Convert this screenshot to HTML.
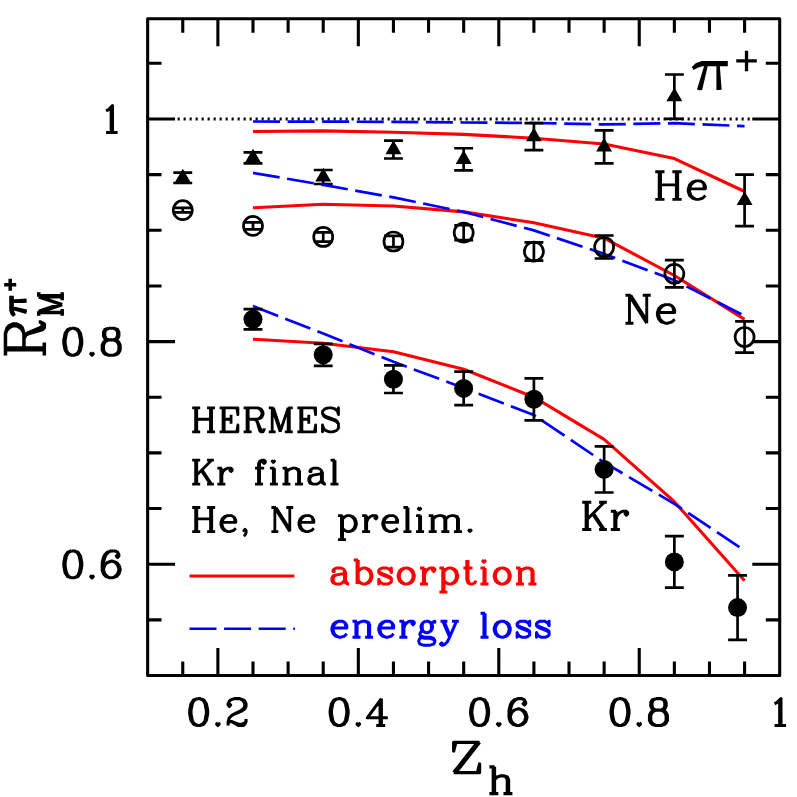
<!DOCTYPE html>
<html><head><meta charset="utf-8"><title>chart</title>
<style>html,body{margin:0;padding:0;background:#fff;font-family:"Liberation Sans",sans-serif}svg{display:block}</style></head>
<body>
<svg width="797" height="797" viewBox="0 0 797 797">
<rect width="797" height="797" fill="#fff"/>
<g fill="none" stroke="#000" stroke-width="3.10" stroke-linecap="butt" stroke-linejoin="round">
<path d="M177.60 118.97 H752.80" stroke-dasharray="2.1 3.9"/>
<rect x="147.65" y="18.80" width="632.05" height="656.70"/>
<path d="M182.76 18.80 v13.90 M182.76 675.50 v-13.90 M217.88 18.80 v27.40 M217.88 675.50 v-27.40 M252.99 18.80 v13.90 M252.99 675.50 v-13.90 M288.11 18.80 v13.90 M288.11 675.50 v-13.90 M323.22 18.80 v13.90 M323.22 675.50 v-13.90 M358.33 18.80 v27.40 M358.33 675.50 v-27.40 M393.45 18.80 v13.90 M393.45 675.50 v-13.90 M428.56 18.80 v13.90 M428.56 675.50 v-13.90 M463.68 18.80 v13.90 M463.68 675.50 v-13.90 M498.79 18.80 v27.40 M498.79 675.50 v-27.40 M533.90 18.80 v13.90 M533.90 675.50 v-13.90 M569.02 18.80 v13.90 M569.02 675.50 v-13.90 M604.13 18.80 v13.90 M604.13 675.50 v-13.90 M639.24 18.80 v27.40 M639.24 675.50 v-27.40 M674.36 18.80 v13.90 M674.36 675.50 v-13.90 M709.47 18.80 v13.90 M709.47 675.50 v-13.90 M744.59 18.80 v13.90 M744.59 675.50 v-13.90 M147.65 619.86 h13.90 M779.70 619.86 h-13.90 M147.65 564.21 h27.40 M779.70 564.21 h-27.40 M147.65 508.55 h13.90 M779.70 508.55 h-13.90 M147.65 452.90 h13.90 M779.70 452.90 h-13.90 M147.65 397.25 h13.90 M779.70 397.25 h-13.90 M147.65 341.59 h27.40 M779.70 341.59 h-27.40 M147.65 285.93 h13.90 M779.70 285.93 h-13.90 M147.65 230.28 h13.90 M779.70 230.28 h-13.90 M147.65 174.63 h13.90 M779.70 174.63 h-13.90 M147.65 118.97 h27.40 M779.70 118.97 h-27.40 M147.65 63.31 h13.90 M779.70 63.31 h-13.90"/>
</g>
<path fill="none" stroke="#ff0000" stroke-width="3.10" stroke-linejoin="round" d="M252.99 131.50 L323.22 130.90 L393.45 132.30 L463.68 134.40 L533.90 138.20 L604.13 144.00 L674.36 158.60 L744.59 191.50"/>
<path fill="none" stroke="#0000ff" stroke-width="2.7" stroke-linejoin="round" stroke-dasharray="27 7.58" d="M252.99 121.50 L323.22 121.60 L393.45 121.90 L463.68 122.50 L533.90 123.00 L604.13 124.40 L674.36 123.20 L744.59 126.10"/>
<path fill="none" stroke="#000" stroke-width="2.70" d="M182.76 172.70 V183.00 M173.31 172.70 h18.90 M173.31 183.00 h18.90 M252.99 152.45 V163.45 M243.54 152.45 h18.90 M243.54 163.45 h18.90 M323.22 170.00 V184.00 M313.77 170.00 h18.90 M313.77 184.00 h18.90 M393.45 140.60 V158.50 M384.00 140.60 h18.90 M384.00 158.50 h18.90 M463.68 148.25 V170.35 M454.23 148.25 h18.90 M454.23 170.35 h18.90 M533.90 123.20 V150.20 M524.45 123.20 h18.90 M524.45 150.20 h18.90 M604.13 130.40 V163.40 M594.68 130.40 h18.90 M594.68 163.40 h18.90 M674.36 74.50 V118.90 M664.91 74.50 h18.90 M664.91 118.90 h18.90 M744.59 174.70 V226.10 M735.14 174.70 h18.90 M735.14 226.10 h18.90"/>
<path fill="#000" d="M182.76 168.65 L190.73 182.45 L174.80 182.45 Z M252.99 148.75 L260.96 162.55 L245.02 162.55 Z M323.22 167.80 L331.19 181.60 L315.25 181.60 Z M393.45 140.35 L401.41 154.15 L385.48 154.15 Z M463.68 150.10 L471.64 163.90 L455.71 163.90 Z M533.90 127.50 L541.87 141.30 L525.94 141.30 Z M604.13 137.70 L612.10 151.50 L596.16 151.50 Z M674.36 87.50 L682.33 101.30 L666.39 101.30 Z M744.59 191.20 L752.55 205.00 L736.62 205.00 Z"/>
<path fill="none" stroke="#ff0000" stroke-width="3.10" stroke-linejoin="round" d="M252.99 207.80 L323.22 204.20 L393.45 206.00 L463.68 211.90 L533.90 222.70 L604.13 238.20 L674.36 275.50 L744.59 319.40"/>
<path fill="none" stroke="#0000ff" stroke-width="2.7" stroke-linejoin="round" stroke-dasharray="27 7.58" d="M252.99 172.90 L323.22 184.90 L393.45 197.40 L463.68 211.90 L533.90 230.40 L604.13 253.90 L674.36 280.20 L744.59 315.80"/>
<path fill="none" stroke="#000" stroke-width="2.70" d="M182.76 207.90 V212.40 M173.31 207.90 h18.90 M173.31 212.40 h18.90 M252.99 222.40 V229.40 M243.54 222.40 h18.90 M243.54 229.40 h18.90 M323.22 232.32 V241.62 M313.77 232.32 h18.90 M313.77 241.62 h18.90 M393.45 235.85 V247.15 M384.00 235.85 h18.90 M384.00 247.15 h18.90 M463.68 225.25 V240.05 M454.23 225.25 h18.90 M454.23 240.05 h18.90 M533.90 242.45 V260.65 M524.45 242.45 h18.90 M524.45 260.65 h18.90 M604.13 235.50 V258.50 M594.68 235.50 h18.90 M594.68 258.50 h18.90 M674.36 260.20 V287.40 M664.91 260.20 h18.90 M664.91 287.40 h18.90 M744.59 321.40 V352.60 M735.14 321.40 h18.90 M735.14 352.60 h18.90"/>
<g fill="none" stroke="#000" stroke-width="2.70">
<circle cx="182.76" cy="210.15" r="9.5"/>
<circle cx="252.99" cy="225.90" r="9.5"/>
<circle cx="323.22" cy="236.97" r="9.5"/>
<circle cx="393.45" cy="241.50" r="9.5"/>
<circle cx="463.68" cy="232.65" r="9.5"/>
<circle cx="533.90" cy="251.55" r="9.5"/>
<circle cx="604.13" cy="247.00" r="9.5"/>
<circle cx="674.36" cy="273.80" r="9.5"/>
<circle cx="744.59" cy="337.00" r="9.5"/>
</g>
<path fill="none" stroke="#ff0000" stroke-width="3.10" stroke-linejoin="round" d="M252.99 339.20 L323.22 343.20 L393.45 351.70 L463.68 369.20 L533.90 397.20 L604.13 439.30 L674.36 501.70 L744.59 580.80"/>
<path fill="none" stroke="#0000ff" stroke-width="2.7" stroke-linejoin="round" stroke-dasharray="27 7.58" d="M252.99 306.10 L323.22 333.60 L393.45 361.80 L463.68 388.00 L533.90 415.00 L604.13 462.40 L674.36 503.80 L744.59 550.50"/>
<path fill="none" stroke="#000" stroke-width="2.70" d="M252.99 309.20 V329.40 M243.54 309.20 h18.90 M243.54 329.40 h18.90 M323.22 343.80 V365.80 M313.77 343.80 h18.90 M313.77 365.80 h18.90 M393.45 365.40 V393.00 M384.00 365.40 h18.90 M384.00 393.00 h18.90 M463.68 371.70 V405.10 M454.23 371.70 h18.90 M454.23 405.10 h18.90 M533.90 378.30 V420.30 M524.45 378.30 h18.90 M524.45 420.30 h18.90 M604.13 446.30 V492.50 M594.68 446.30 h18.90 M594.68 492.50 h18.90 M674.36 536.20 V587.60 M664.91 536.20 h18.90 M664.91 587.60 h18.90 M737.56 575.40 V639.80 M728.11 575.40 h18.90 M728.11 639.80 h18.90"/>
<g fill="#000">
<circle cx="252.99" cy="319.30" r="9.5"/>
<circle cx="323.22" cy="354.80" r="9.5"/>
<circle cx="393.45" cy="379.20" r="9.5"/>
<circle cx="463.68" cy="388.40" r="9.5"/>
<circle cx="533.90" cy="399.30" r="9.5"/>
<circle cx="604.13" cy="469.40" r="9.5"/>
<circle cx="674.36" cy="561.90" r="9.5"/>
<circle cx="737.56" cy="607.60" r="9.5"/>
</g>
<path fill="none" stroke="#ff0000" stroke-width="3.10" d="M189.5 576 H294.3"/>
<path fill="none" stroke="#0000ff" stroke-dasharray="27 7.58" stroke-width="2.6" d="M189.5 628.7 H294.9"/>
<path d="M197.40 698.62 L193.56 699.90 L191.00 703.74 L189.72 710.14 L189.72 713.98 L191.00 720.38 L193.56 724.22 L197.40 725.50 L199.96 725.50 L203.80 724.22 L206.36 720.38 L207.64 713.98 L207.64 710.14 L206.36 703.74 L203.80 699.90 L199.96 698.62 L197.40 698.62 M197.40 698.62 L194.84 699.90 L193.56 701.18 L192.28 703.74 L191.00 710.14 L191.00 713.98 L192.28 720.38 L193.56 722.94 L194.84 724.22 L197.40 725.50 M199.96 725.50 L202.52 724.22 L203.80 722.94 L205.08 720.38 L206.36 713.98 L206.36 710.14 L205.08 703.74 L203.80 701.18 L202.52 699.90 L199.96 698.62 M217.88 722.94 L216.60 724.22 L217.88 725.50 L219.16 724.22 L217.88 722.94 M229.40 703.74 L230.68 705.02 L229.40 706.30 L228.12 705.02 L228.12 703.74 L229.40 701.18 L230.68 699.90 L234.52 698.62 L239.64 698.62 L243.48 699.90 L244.76 701.18 L246.04 703.74 L246.04 706.30 L244.76 708.86 L240.92 711.42 L234.52 713.98 L231.96 715.26 L229.40 717.82 L228.12 721.66 L228.12 725.50 M239.64 698.62 L242.20 699.90 L243.48 701.18 L244.76 703.74 L244.76 706.30 L243.48 708.86 L239.64 711.42 L234.52 713.98 M228.12 722.94 L229.40 721.66 L231.96 721.66 L238.36 724.22 L242.20 724.22 L244.76 722.94 L246.04 721.66 M231.96 721.66 L238.36 725.50 L243.48 725.50 L244.76 724.22 L246.04 721.66 L246.04 719.10" fill="none" stroke="#000" stroke-width="3.10" stroke-linecap="butt" stroke-linejoin="round"/>
<path d="M337.85 698.62 L334.01 699.90 L331.45 703.74 L330.17 710.14 L330.17 713.98 L331.45 720.38 L334.01 724.22 L337.85 725.50 L340.41 725.50 L344.25 724.22 L346.81 720.38 L348.09 713.98 L348.09 710.14 L346.81 703.74 L344.25 699.90 L340.41 698.62 L337.85 698.62 M337.85 698.62 L335.29 699.90 L334.01 701.18 L332.73 703.74 L331.45 710.14 L331.45 713.98 L332.73 720.38 L334.01 722.94 L335.29 724.22 L337.85 725.50 M340.41 725.50 L342.97 724.22 L344.25 722.94 L345.53 720.38 L346.81 713.98 L346.81 710.14 L345.53 703.74 L344.25 701.18 L342.97 699.90 L340.41 698.62 M358.33 722.94 L357.05 724.22 L358.33 725.50 L359.61 724.22 L358.33 722.94 M380.09 701.18 L380.09 725.50 M381.37 698.62 L381.37 725.50 M381.37 698.62 L367.29 717.82 L387.77 717.82 M376.25 725.50 L385.21 725.50" fill="none" stroke="#000" stroke-width="3.10" stroke-linecap="butt" stroke-linejoin="round"/>
<path d="M478.31 698.62 L474.47 699.90 L471.91 703.74 L470.63 710.14 L470.63 713.98 L471.91 720.38 L474.47 724.22 L478.31 725.50 L480.87 725.50 L484.71 724.22 L487.27 720.38 L488.55 713.98 L488.55 710.14 L487.27 703.74 L484.71 699.90 L480.87 698.62 L478.31 698.62 M478.31 698.62 L475.75 699.90 L474.47 701.18 L473.19 703.74 L471.91 710.14 L471.91 713.98 L473.19 720.38 L474.47 722.94 L475.75 724.22 L478.31 725.50 M480.87 725.50 L483.43 724.22 L484.71 722.94 L485.99 720.38 L487.27 713.98 L487.27 710.14 L485.99 703.74 L484.71 701.18 L483.43 699.90 L480.87 698.62 M498.79 722.94 L497.51 724.22 L498.79 725.50 L500.07 724.22 L498.79 722.94 M524.39 702.46 L523.11 703.74 L524.39 705.02 L525.67 703.74 L525.67 702.46 L524.39 699.90 L521.83 698.62 L517.99 698.62 L514.15 699.90 L511.59 702.46 L510.31 705.02 L509.03 710.14 L509.03 717.82 L510.31 721.66 L512.87 724.22 L516.71 725.50 L519.27 725.50 L523.11 724.22 L525.67 721.66 L526.95 717.82 L526.95 716.54 L525.67 712.70 L523.11 710.14 L519.27 708.86 L517.99 708.86 L514.15 710.14 L511.59 712.70 L510.31 716.54 M517.99 698.62 L515.43 699.90 L512.87 702.46 L511.59 705.02 L510.31 710.14 L510.31 717.82 L511.59 721.66 L514.15 724.22 L516.71 725.50 M519.27 725.50 L521.83 724.22 L524.39 721.66 L525.67 717.82 L525.67 716.54 L524.39 712.70 L521.83 710.14 L519.27 708.86" fill="none" stroke="#000" stroke-width="3.10" stroke-linecap="butt" stroke-linejoin="round"/>
<path d="M618.76 698.62 L614.92 699.90 L612.36 703.74 L611.08 710.14 L611.08 713.98 L612.36 720.38 L614.92 724.22 L618.76 725.50 L621.32 725.50 L625.16 724.22 L627.72 720.38 L629.00 713.98 L629.00 710.14 L627.72 703.74 L625.16 699.90 L621.32 698.62 L618.76 698.62 M618.76 698.62 L616.20 699.90 L614.92 701.18 L613.64 703.74 L612.36 710.14 L612.36 713.98 L613.64 720.38 L614.92 722.94 L616.20 724.22 L618.76 725.50 M621.32 725.50 L623.88 724.22 L625.16 722.94 L626.44 720.38 L627.72 713.98 L627.72 710.14 L626.44 703.74 L625.16 701.18 L623.88 699.90 L621.32 698.62 M639.24 722.94 L637.96 724.22 L639.24 725.50 L640.52 724.22 L639.24 722.94 M655.88 698.62 L652.04 699.90 L650.76 702.46 L650.76 706.30 L652.04 708.86 L655.88 710.14 L661.00 710.14 L664.84 708.86 L666.12 706.30 L666.12 702.46 L664.84 699.90 L661.00 698.62 L655.88 698.62 M655.88 698.62 L653.32 699.90 L652.04 702.46 L652.04 706.30 L653.32 708.86 L655.88 710.14 M661.00 710.14 L663.56 708.86 L664.84 706.30 L664.84 702.46 L663.56 699.90 L661.00 698.62 M655.88 710.14 L652.04 711.42 L650.76 712.70 L649.48 715.26 L649.48 720.38 L650.76 722.94 L652.04 724.22 L655.88 725.50 L661.00 725.50 L664.84 724.22 L666.12 722.94 L667.40 720.38 L667.40 715.26 L666.12 712.70 L664.84 711.42 L661.00 710.14 M655.88 710.14 L653.32 711.42 L652.04 712.70 L650.76 715.26 L650.76 720.38 L652.04 722.94 L653.32 724.22 L655.88 725.50 M661.00 725.50 L663.56 724.22 L664.84 722.94 L666.12 720.38 L666.12 715.26 L664.84 712.70 L663.56 711.42 L661.00 710.14" fill="none" stroke="#000" stroke-width="3.10" stroke-linecap="butt" stroke-linejoin="round"/>
<path d="M774.58 703.74 L777.14 702.46 L780.98 698.62 L780.98 725.50 M779.70 699.90 L779.70 725.50 M774.58 725.50 L786.10 725.50" fill="none" stroke="#000" stroke-width="3.10" stroke-linecap="butt" stroke-linejoin="round"/>
<path d="M106.08 110.81 L108.64 109.53 L112.48 105.69 L112.48 132.57 M111.20 106.97 L111.20 132.57 M106.08 132.57 L117.60 132.57" fill="none" stroke="#000" stroke-width="3.10" stroke-linecap="butt" stroke-linejoin="round"/>
<path d="M71.52 328.31 L67.68 329.59 L65.12 333.43 L63.84 339.83 L63.84 343.67 L65.12 350.07 L67.68 353.91 L71.52 355.19 L74.08 355.19 L77.92 353.91 L80.48 350.07 L81.76 343.67 L81.76 339.83 L80.48 333.43 L77.92 329.59 L74.08 328.31 L71.52 328.31 M71.52 328.31 L68.96 329.59 L67.68 330.87 L66.40 333.43 L65.12 339.83 L65.12 343.67 L66.40 350.07 L67.68 352.63 L68.96 353.91 L71.52 355.19 M74.08 355.19 L76.64 353.91 L77.92 352.63 L79.20 350.07 L80.48 343.67 L80.48 339.83 L79.20 333.43 L77.92 330.87 L76.64 329.59 L74.08 328.31 M92.00 352.63 L90.72 353.91 L92.00 355.19 L93.28 353.91 L92.00 352.63 M108.64 328.31 L104.80 329.59 L103.52 332.15 L103.52 335.99 L104.80 338.55 L108.64 339.83 L113.76 339.83 L117.60 338.55 L118.88 335.99 L118.88 332.15 L117.60 329.59 L113.76 328.31 L108.64 328.31 M108.64 328.31 L106.08 329.59 L104.80 332.15 L104.80 335.99 L106.08 338.55 L108.64 339.83 M113.76 339.83 L116.32 338.55 L117.60 335.99 L117.60 332.15 L116.32 329.59 L113.76 328.31 M108.64 339.83 L104.80 341.11 L103.52 342.39 L102.24 344.95 L102.24 350.07 L103.52 352.63 L104.80 353.91 L108.64 355.19 L113.76 355.19 L117.60 353.91 L118.88 352.63 L120.16 350.07 L120.16 344.95 L118.88 342.39 L117.60 341.11 L113.76 339.83 M108.64 339.83 L106.08 341.11 L104.80 342.39 L103.52 344.95 L103.52 350.07 L104.80 352.63 L106.08 353.91 L108.64 355.19 M113.76 355.19 L116.32 353.91 L117.60 352.63 L118.88 350.07 L118.88 344.95 L117.60 342.39 L116.32 341.11 L113.76 339.83" fill="none" stroke="#000" stroke-width="3.10" stroke-linecap="butt" stroke-linejoin="round"/>
<path d="M71.52 550.93 L67.68 552.21 L65.12 556.05 L63.84 562.45 L63.84 566.29 L65.12 572.69 L67.68 576.53 L71.52 577.81 L74.08 577.81 L77.92 576.53 L80.48 572.69 L81.76 566.29 L81.76 562.45 L80.48 556.05 L77.92 552.21 L74.08 550.93 L71.52 550.93 M71.52 550.93 L68.96 552.21 L67.68 553.49 L66.40 556.05 L65.12 562.45 L65.12 566.29 L66.40 572.69 L67.68 575.25 L68.96 576.53 L71.52 577.81 M74.08 577.81 L76.64 576.53 L77.92 575.25 L79.20 572.69 L80.48 566.29 L80.48 562.45 L79.20 556.05 L77.92 553.49 L76.64 552.21 L74.08 550.93 M92.00 575.25 L90.72 576.53 L92.00 577.81 L93.28 576.53 L92.00 575.25 M117.60 554.77 L116.32 556.05 L117.60 557.33 L118.88 556.05 L118.88 554.77 L117.60 552.21 L115.04 550.93 L111.20 550.93 L107.36 552.21 L104.80 554.77 L103.52 557.33 L102.24 562.45 L102.24 570.13 L103.52 573.97 L106.08 576.53 L109.92 577.81 L112.48 577.81 L116.32 576.53 L118.88 573.97 L120.16 570.13 L120.16 568.85 L118.88 565.01 L116.32 562.45 L112.48 561.17 L111.20 561.17 L107.36 562.45 L104.80 565.01 L103.52 568.85 M111.20 550.93 L108.64 552.21 L106.08 554.77 L104.80 557.33 L103.52 562.45 L103.52 570.13 L104.80 573.97 L107.36 576.53 L109.92 577.81 M112.48 577.81 L115.04 576.53 L117.60 573.97 L118.88 570.13 L118.88 568.85 L117.60 565.01 L115.04 562.45 L112.48 561.17" fill="none" stroke="#000" stroke-width="3.10" stroke-linecap="butt" stroke-linejoin="round"/>
<path d="M195.62 407.80 L195.62 431.80 M196.76 407.80 L196.76 431.80 M210.47 407.80 L210.47 431.80 M211.62 407.80 L211.62 431.80 M192.19 407.80 L200.19 407.80 M207.05 407.80 L215.05 407.80 M196.76 419.23 L210.47 419.23 M192.19 431.80 L200.19 431.80 M207.05 431.80 L215.05 431.80 M223.05 407.80 L223.05 431.80 M224.19 407.80 L224.19 431.80 M231.05 414.66 L231.05 423.80 M219.62 407.80 L237.91 407.80 L237.91 414.66 L236.76 407.80 M224.19 419.23 L231.05 419.23 M219.62 431.80 L237.91 431.80 L237.91 424.94 L236.76 431.80 M247.05 407.80 L247.05 431.80 M248.19 407.80 L248.19 431.80 M243.62 407.80 L257.34 407.80 L260.77 408.94 L261.91 410.08 L263.05 412.37 L263.05 414.66 L261.91 416.94 L260.77 418.08 L257.34 419.23 L248.19 419.23 M257.34 407.80 L259.62 408.94 L260.77 410.08 L261.91 412.37 L261.91 414.66 L260.77 416.94 L259.62 418.08 L257.34 419.23 M243.62 431.80 L251.62 431.80 M253.91 419.23 L256.19 420.37 L257.34 421.51 L260.77 429.51 L261.91 430.66 L263.05 430.66 L264.20 429.51 M256.19 420.37 L257.34 422.66 L259.62 430.66 L260.77 431.80 L263.05 431.80 L264.20 429.51 L264.20 428.37 M272.20 407.80 L272.20 431.80 M273.34 407.80 L280.20 428.37 M272.20 407.80 L280.20 431.80 M288.20 407.80 L280.20 431.80 M288.20 407.80 L288.20 431.80 M289.34 407.80 L289.34 431.80 M268.77 407.80 L273.34 407.80 M288.20 407.80 L292.77 407.80 M268.77 431.80 L275.62 431.80 M284.77 431.80 L292.77 431.80 M300.77 407.80 L300.77 431.80 M301.91 407.80 L301.91 431.80 M308.77 414.66 L308.77 423.80 M297.34 407.80 L315.63 407.80 L315.63 414.66 L314.49 407.80 M301.91 419.23 L308.77 419.23 M297.34 431.80 L315.63 431.80 L315.63 424.94 L314.49 431.80 M337.35 411.23 L338.49 407.80 L338.49 414.66 L337.35 411.23 L335.06 408.94 L331.63 407.80 L328.20 407.80 L324.77 408.94 L322.49 411.23 L322.49 413.51 L323.63 415.80 L324.77 416.94 L327.06 418.08 L333.92 420.37 L336.20 421.51 L338.49 423.80 M322.49 413.51 L324.77 415.80 L327.06 416.94 L333.92 419.23 L336.20 420.37 L337.35 421.51 L338.49 423.80 L338.49 428.37 L336.20 430.66 L332.77 431.80 L329.35 431.80 L325.92 430.66 L323.63 428.37 L322.49 424.94 L322.49 431.80 L323.63 428.37" fill="none" stroke="#000" stroke-width="2.80" stroke-linecap="butt" stroke-linejoin="round"/>
<path d="M195.62 460.20 L195.62 484.20 M196.76 460.20 L196.76 484.20 M211.62 460.20 L196.76 475.06 M202.47 470.48 L211.62 484.20 M201.33 470.48 L210.47 484.20 M192.19 460.20 L200.19 460.20 M207.05 460.20 L213.90 460.20 M192.19 484.20 L200.19 484.20 M207.05 484.20 L213.90 484.20 M220.76 468.20 L220.76 484.20 M221.90 468.20 L221.90 484.20 M221.90 475.06 L223.05 471.63 L225.33 469.34 L227.62 468.20 L231.05 468.20 L232.19 469.34 L232.19 470.48 L231.05 471.63 L229.91 470.48 L231.05 469.34 M217.33 468.20 L221.90 468.20 M217.33 484.20 L225.33 484.20 M264.19 461.34 L263.05 462.48 L264.19 463.63 L265.34 462.48 L265.34 461.34 L264.19 460.20 L261.91 460.20 L259.62 461.34 L258.48 463.63 L258.48 484.20 M261.91 460.20 L260.77 461.34 L259.62 463.63 L259.62 484.20 M255.05 468.20 L264.19 468.20 M255.05 484.20 L263.05 484.20 M273.34 460.20 L272.20 461.34 L273.34 462.48 L274.48 461.34 L273.34 460.20 M273.34 468.20 L273.34 484.20 M274.48 468.20 L274.48 484.20 M269.91 468.20 L274.48 468.20 M269.91 484.20 L277.91 484.20 M285.91 468.20 L285.91 484.20 M287.06 468.20 L287.06 484.20 M287.06 471.63 L289.34 469.34 L292.77 468.20 L295.06 468.20 L298.49 469.34 L299.63 471.63 L299.63 484.20 M295.06 468.20 L297.34 469.34 L298.49 471.63 L298.49 484.20 M282.48 468.20 L287.06 468.20 M282.48 484.20 L290.48 484.20 M295.06 484.20 L303.06 484.20 M311.06 470.48 L311.06 471.63 L309.92 471.63 L309.92 470.48 L311.06 469.34 L313.34 468.20 L317.92 468.20 L320.20 469.34 L321.35 470.48 L322.49 472.77 L322.49 480.77 L323.63 483.06 L324.77 484.20 M321.35 470.48 L321.35 480.77 L322.49 483.06 L324.77 484.20 L325.92 484.20 M321.35 472.77 L320.20 473.91 L313.34 475.06 L309.92 476.20 L308.77 478.49 L308.77 480.77 L309.92 483.06 L313.34 484.20 L316.77 484.20 L319.06 483.06 L321.35 480.77 M313.34 475.06 L311.06 476.20 L309.92 478.49 L309.92 480.77 L311.06 483.06 L313.34 484.20 M333.92 460.20 L333.92 484.20 M335.06 460.20 L335.06 484.20 M330.49 460.20 L335.06 460.20 M330.49 484.20 L338.49 484.20" fill="none" stroke="#000" stroke-width="2.80" stroke-linecap="butt" stroke-linejoin="round"/>
<path d="M195.64 507.49 L195.64 531.60 M196.79 507.49 L196.79 531.60 M210.56 507.49 L210.56 531.60 M211.71 507.49 L211.71 531.60 M192.20 507.49 L200.23 507.49 M207.12 507.49 L215.16 507.49 M196.79 518.97 L210.56 518.97 M192.20 531.60 L200.23 531.60 M207.12 531.60 L215.16 531.60 M222.04 522.42 L235.82 522.42 L235.82 520.12 L234.67 517.82 L233.52 516.68 L231.23 515.53 L227.78 515.53 L224.34 516.68 L222.04 518.97 L220.90 522.42 L220.90 524.71 L222.04 528.16 L224.34 530.45 L227.78 531.60 L230.08 531.60 L233.52 530.45 L235.82 528.16 M234.67 522.42 L234.67 518.97 L233.52 516.68 M227.78 515.53 L225.49 516.68 L223.19 518.97 L222.04 522.42 L222.04 524.71 L223.19 528.16 L225.49 530.45 L227.78 531.60 M245.00 531.60 L243.86 530.45 L245.00 529.30 L246.15 530.45 L246.15 532.75 L245.00 535.04 L243.86 536.19 M274.85 507.49 L274.85 531.60 M276.00 507.49 L289.78 529.30 M276.00 509.79 L289.78 531.60 M289.78 507.49 L289.78 531.60 M271.41 507.49 L276.00 507.49 M286.33 507.49 L293.22 507.49 M271.41 531.60 L278.30 531.60 M300.11 522.42 L313.88 522.42 L313.88 520.12 L312.74 517.82 L311.59 516.68 L309.29 515.53 L305.85 515.53 L302.40 516.68 L300.11 518.97 L298.96 522.42 L298.96 524.71 L300.11 528.16 L302.40 530.45 L305.85 531.60 L308.14 531.60 L311.59 530.45 L313.88 528.16 M312.74 522.42 L312.74 518.97 L311.59 516.68 M305.85 515.53 L303.55 516.68 L301.26 518.97 L300.11 522.42 L300.11 524.71 L301.26 528.16 L303.55 530.45 L305.85 531.60 M341.44 515.53 L341.44 539.64 M342.58 515.53 L342.58 539.64 M342.58 518.97 L344.88 516.68 L347.18 515.53 L349.47 515.53 L352.92 516.68 L355.21 518.97 L356.36 522.42 L356.36 524.71 L355.21 528.16 L352.92 530.45 L349.47 531.60 L347.18 531.60 L344.88 530.45 L342.58 528.16 M349.47 515.53 L351.77 516.68 L354.06 518.97 L355.21 522.42 L355.21 524.71 L354.06 528.16 L351.77 530.45 L349.47 531.60 M337.99 515.53 L342.58 515.53 M337.99 539.64 L346.03 539.64 M365.54 515.53 L365.54 531.60 M366.69 515.53 L366.69 531.60 M366.69 522.42 L367.84 518.97 L370.14 516.68 L372.43 515.53 L375.88 515.53 L377.02 516.68 L377.02 517.82 L375.88 518.97 L374.73 517.82 L375.88 516.68 M362.10 515.53 L366.69 515.53 M362.10 531.60 L370.14 531.60 M383.91 522.42 L397.69 522.42 L397.69 520.12 L396.54 517.82 L395.39 516.68 L393.10 515.53 L389.65 515.53 L386.21 516.68 L383.91 518.97 L382.76 522.42 L382.76 524.71 L383.91 528.16 L386.21 530.45 L389.65 531.60 L391.95 531.60 L395.39 530.45 L397.69 528.16 M396.54 522.42 L396.54 518.97 L395.39 516.68 M389.65 515.53 L387.36 516.68 L385.06 518.97 L383.91 522.42 L383.91 524.71 L385.06 528.16 L387.36 530.45 L389.65 531.60 M406.87 507.49 L406.87 531.60 M408.02 507.49 L408.02 531.60 M403.43 507.49 L408.02 507.49 M403.43 531.60 L411.46 531.60 M419.50 507.49 L418.35 508.64 L419.50 509.79 L420.65 508.64 L419.50 507.49 M419.50 515.53 L419.50 531.60 M420.65 515.53 L420.65 531.60 M416.06 515.53 L420.65 515.53 M416.06 531.60 L424.09 531.60 M432.13 515.53 L432.13 531.60 M433.28 515.53 L433.28 531.60 M433.28 518.97 L435.57 516.68 L439.02 515.53 L441.31 515.53 L444.76 516.68 L445.90 518.97 L445.90 531.60 M441.31 515.53 L443.61 516.68 L444.76 518.97 L444.76 531.60 M445.90 518.97 L448.20 516.68 L451.64 515.53 L453.94 515.53 L457.38 516.68 L458.53 518.97 L458.53 531.60 M453.94 515.53 L456.24 516.68 L457.38 518.97 L457.38 531.60 M428.68 515.53 L433.28 515.53 M428.68 531.60 L436.72 531.60 M441.31 531.60 L449.35 531.60 M453.94 531.60 L461.98 531.60 M470.01 529.30 L468.86 530.45 L470.01 531.60 L471.16 530.45 L470.01 529.30" fill="none" stroke="#000" stroke-width="2.80" stroke-linecap="butt" stroke-linejoin="round"/>
<path d="M334.21 570.28 L334.21 571.43 L333.07 571.43 L333.07 570.28 L334.21 569.14 L336.50 568.00 L341.07 568.00 L343.36 569.14 L344.50 570.28 L345.64 572.57 L345.64 580.57 L346.79 582.86 L347.93 584.00 M344.50 570.28 L344.50 580.57 L345.64 582.86 L347.93 584.00 L349.07 584.00 M344.50 572.57 L343.36 573.71 L336.50 574.86 L333.07 576.00 L331.93 578.28 L331.93 580.57 L333.07 582.86 L336.50 584.00 L339.93 584.00 L342.22 582.86 L344.50 580.57 M336.50 574.86 L334.21 576.00 L333.07 578.28 L333.07 580.57 L334.21 582.86 L336.50 584.00 M357.07 560.00 L357.07 584.00 M358.22 560.00 L358.22 584.00 M358.22 571.43 L360.50 569.14 L362.79 568.00 L365.08 568.00 L368.50 569.14 L370.79 571.43 L371.93 574.86 L371.93 577.14 L370.79 580.57 L368.50 582.86 L365.08 584.00 L362.79 584.00 L360.50 582.86 L358.22 580.57 M365.08 568.00 L367.36 569.14 L369.65 571.43 L370.79 574.86 L370.79 577.14 L369.65 580.57 L367.36 582.86 L365.08 584.00 M353.65 560.00 L358.22 560.00 M390.22 570.28 L391.37 568.00 L391.37 572.57 L390.22 570.28 L389.08 569.14 L386.79 568.00 L382.22 568.00 L379.94 569.14 L378.79 570.28 L378.79 572.57 L379.94 573.71 L382.22 574.86 L387.94 577.14 L390.22 578.28 L391.37 579.43 M378.79 571.43 L379.94 572.57 L382.22 573.71 L387.94 576.00 L390.22 577.14 L391.37 578.28 L391.37 581.71 L390.22 582.86 L387.94 584.00 L383.36 584.00 L381.08 582.86 L379.94 581.71 L378.79 579.43 L378.79 584.00 L379.94 581.71 M405.08 568.00 L401.65 569.14 L399.37 571.43 L398.22 574.86 L398.22 577.14 L399.37 580.57 L401.65 582.86 L405.08 584.00 L407.37 584.00 L410.80 582.86 L413.08 580.57 L414.23 577.14 L414.23 574.86 L413.08 571.43 L410.80 569.14 L407.37 568.00 L405.08 568.00 M405.08 568.00 L402.79 569.14 L400.51 571.43 L399.37 574.86 L399.37 577.14 L400.51 580.57 L402.79 582.86 L405.08 584.00 M407.37 584.00 L409.65 582.86 L411.94 580.57 L413.08 577.14 L413.08 574.86 L411.94 571.43 L409.65 569.14 L407.37 568.00 M423.37 568.00 L423.37 584.00 M424.51 568.00 L424.51 584.00 M424.51 574.86 L425.65 571.43 L427.94 569.14 L430.23 568.00 L433.66 568.00 L434.80 569.14 L434.80 570.28 L433.66 571.43 L432.51 570.28 L433.66 569.14 M419.94 568.00 L424.51 568.00 M419.94 584.00 L427.94 584.00 M442.80 568.00 L442.80 592.00 M443.94 568.00 L443.94 592.00 M443.94 571.43 L446.23 569.14 L448.51 568.00 L450.80 568.00 L454.23 569.14 L456.52 571.43 L457.66 574.86 L457.66 577.14 L456.52 580.57 L454.23 582.86 L450.80 584.00 L448.51 584.00 L446.23 582.86 L443.94 580.57 M450.80 568.00 L453.09 569.14 L455.37 571.43 L456.52 574.86 L456.52 577.14 L455.37 580.57 L453.09 582.86 L450.80 584.00 M439.37 568.00 L443.94 568.00 M439.37 592.00 L447.37 592.00 M466.80 560.00 L466.80 579.43 L467.95 582.86 L470.23 584.00 L472.52 584.00 L474.80 582.86 L475.95 580.57 M467.95 560.00 L467.95 579.43 L469.09 582.86 L470.23 584.00 M463.37 568.00 L472.52 568.00 M483.95 560.00 L482.81 561.14 L483.95 562.28 L485.09 561.14 L483.95 560.00 M483.95 568.00 L483.95 584.00 M485.09 568.00 L485.09 584.00 M480.52 568.00 L485.09 568.00 M480.52 584.00 L488.52 584.00 M501.09 568.00 L497.66 569.14 L495.38 571.43 L494.24 574.86 L494.24 577.14 L495.38 580.57 L497.66 582.86 L501.09 584.00 L503.38 584.00 L506.81 582.86 L509.09 580.57 L510.24 577.14 L510.24 574.86 L509.09 571.43 L506.81 569.14 L503.38 568.00 L501.09 568.00 M501.09 568.00 L498.81 569.14 L496.52 571.43 L495.38 574.86 L495.38 577.14 L496.52 580.57 L498.81 582.86 L501.09 584.00 M503.38 584.00 L505.67 582.86 L507.95 580.57 L509.09 577.14 L509.09 574.86 L507.95 571.43 L505.67 569.14 L503.38 568.00 M519.38 568.00 L519.38 584.00 M520.52 568.00 L520.52 584.00 M520.52 571.43 L522.81 569.14 L526.24 568.00 L528.52 568.00 L531.95 569.14 L533.10 571.43 L533.10 584.00 M528.52 568.00 L530.81 569.14 L531.95 571.43 L531.95 584.00 M515.95 568.00 L520.52 568.00 M515.95 584.00 L523.95 584.00 M528.52 584.00 L536.53 584.00" fill="none" stroke="#ff0000" stroke-width="3.00" stroke-linecap="butt" stroke-linejoin="round"/>
<path d="M333.07 628.06 L346.79 628.06 L346.79 625.77 L345.64 623.48 L344.50 622.34 L342.22 621.20 L338.79 621.20 L335.36 622.34 L333.07 624.63 L331.93 628.06 L331.93 630.34 L333.07 633.77 L335.36 636.06 L338.79 637.20 L341.07 637.20 L344.50 636.06 L346.79 633.77 M345.64 628.06 L345.64 624.63 L344.50 622.34 M338.79 621.20 L336.50 622.34 L334.21 624.63 L333.07 628.06 L333.07 630.34 L334.21 633.77 L336.50 636.06 L338.79 637.20 M355.93 621.20 L355.93 637.20 M357.07 621.20 L357.07 637.20 M357.07 624.63 L359.36 622.34 L362.79 621.20 L365.08 621.20 L368.50 622.34 L369.65 624.63 L369.65 637.20 M365.08 621.20 L367.36 622.34 L368.50 624.63 L368.50 637.20 M352.50 621.20 L357.07 621.20 M352.50 637.20 L360.50 637.20 M365.08 637.20 L373.08 637.20 M379.94 628.06 L393.65 628.06 L393.65 625.77 L392.51 623.48 L391.37 622.34 L389.08 621.20 L385.65 621.20 L382.22 622.34 L379.94 624.63 L378.79 628.06 L378.79 630.34 L379.94 633.77 L382.22 636.06 L385.65 637.20 L387.94 637.20 L391.37 636.06 L393.65 633.77 M392.51 628.06 L392.51 624.63 L391.37 622.34 M385.65 621.20 L383.36 622.34 L381.08 624.63 L379.94 628.06 L379.94 630.34 L381.08 633.77 L383.36 636.06 L385.65 637.20 M402.80 621.20 L402.80 637.20 M403.94 621.20 L403.94 637.20 M403.94 628.06 L405.08 624.63 L407.37 622.34 L409.65 621.20 L413.08 621.20 L414.23 622.34 L414.23 623.48 L413.08 624.63 L411.94 623.48 L413.08 622.34 M399.37 621.20 L403.94 621.20 M399.37 637.20 L407.37 637.20 M425.65 621.20 L423.37 622.34 L422.23 623.48 L421.08 625.77 L421.08 628.06 L422.23 630.34 L423.37 631.49 L425.65 632.63 L427.94 632.63 L430.23 631.49 L431.37 630.34 L432.51 628.06 L432.51 625.77 L431.37 623.48 L430.23 622.34 L427.94 621.20 L425.65 621.20 M423.37 622.34 L422.23 624.63 L422.23 629.20 L423.37 631.49 M430.23 631.49 L431.37 629.20 L431.37 624.63 L430.23 622.34 M431.37 623.48 L432.51 622.34 L434.80 621.20 L434.80 622.34 L432.51 622.34 M422.23 630.34 L421.08 631.49 L419.94 633.77 L419.94 634.91 L421.08 637.20 L424.51 638.34 L430.23 638.34 L433.66 639.49 L434.80 640.63 M419.94 634.91 L421.08 636.06 L424.51 637.20 L430.23 637.20 L433.66 638.34 L434.80 640.63 L434.80 641.77 L433.66 644.06 L430.23 645.20 L423.37 645.20 L419.94 644.06 L418.80 641.77 L418.80 640.63 L419.94 638.34 L423.37 637.20 M442.80 621.20 L449.66 637.20 M443.94 621.20 L449.66 634.91 M456.52 621.20 L449.66 637.20 L447.37 641.77 L445.09 644.06 L442.80 645.20 L441.66 645.20 L440.51 644.06 L441.66 642.92 L442.80 644.06 M440.51 621.20 L447.37 621.20 M451.94 621.20 L458.80 621.20 M483.95 613.20 L483.95 637.20 M485.09 613.20 L485.09 637.20 M480.52 613.20 L485.09 613.20 M480.52 637.20 L488.52 637.20 M501.09 621.20 L497.66 622.34 L495.38 624.63 L494.24 628.06 L494.24 630.34 L495.38 633.77 L497.66 636.06 L501.09 637.20 L503.38 637.20 L506.81 636.06 L509.09 633.77 L510.24 630.34 L510.24 628.06 L509.09 624.63 L506.81 622.34 L503.38 621.20 L501.09 621.20 M501.09 621.20 L498.81 622.34 L496.52 624.63 L495.38 628.06 L495.38 630.34 L496.52 633.77 L498.81 636.06 L501.09 637.20 M503.38 637.20 L505.67 636.06 L507.95 633.77 L509.09 630.34 L509.09 628.06 L507.95 624.63 L505.67 622.34 L503.38 621.20 M528.52 623.48 L529.67 621.20 L529.67 625.77 L528.52 623.48 L527.38 622.34 L525.10 621.20 L520.52 621.20 L518.24 622.34 L517.10 623.48 L517.10 625.77 L518.24 626.91 L520.52 628.06 L526.24 630.34 L528.52 631.49 L529.67 632.63 M517.10 624.63 L518.24 625.77 L520.52 626.91 L526.24 629.20 L528.52 630.34 L529.67 631.49 L529.67 634.91 L528.52 636.06 L526.24 637.20 L521.67 637.20 L519.38 636.06 L518.24 634.91 L517.10 632.63 L517.10 637.20 L518.24 634.91 M547.96 623.48 L549.10 621.20 L549.10 625.77 L547.96 623.48 L546.81 622.34 L544.53 621.20 L539.96 621.20 L537.67 622.34 L536.53 623.48 L536.53 625.77 L537.67 626.91 L539.96 628.06 L545.67 630.34 L547.96 631.49 L549.10 632.63 M536.53 624.63 L537.67 625.77 L539.96 626.91 L545.67 629.20 L547.96 630.34 L549.10 631.49 L549.10 634.91 L547.96 636.06 L545.67 637.20 L541.10 637.20 L538.81 636.06 L537.67 634.91 L536.53 632.63 L536.53 637.20 L537.67 634.91" fill="none" stroke="#0000ff" stroke-width="3.00" stroke-linecap="butt" stroke-linejoin="round"/>
<path d="M659.20 171.68 L659.20 199.40 M660.52 171.68 L660.52 199.40 M676.36 171.68 L676.36 199.40 M677.68 171.68 L677.68 199.40 M655.24 171.68 L664.48 171.68 M672.40 171.68 L681.64 171.68 M660.52 184.88 L676.36 184.88 M655.24 199.40 L664.48 199.40 M672.40 199.40 L681.64 199.40 M689.56 188.84 L705.40 188.84 L705.40 186.20 L704.08 183.56 L702.76 182.24 L700.12 180.92 L696.16 180.92 L692.20 182.24 L689.56 184.88 L688.24 188.84 L688.24 191.48 L689.56 195.44 L692.20 198.08 L696.16 199.40 L698.80 199.40 L702.76 198.08 L705.40 195.44 M704.08 188.84 L704.08 184.88 L702.76 182.24 M696.16 180.92 L693.52 182.24 L690.88 184.88 L689.56 188.84 L689.56 191.48 L690.88 195.44 L693.52 198.08 L696.16 199.40" fill="none" stroke="#000" stroke-width="2.90" stroke-linecap="butt" stroke-linejoin="round"/>
<path d="M629.45 295.27 L629.45 323.20 M630.78 295.27 L646.74 320.54 M630.78 297.93 L646.74 323.20 M646.74 295.27 L646.74 323.20 M625.46 295.27 L630.78 295.27 M642.75 295.27 L650.73 295.27 M625.46 323.20 L633.44 323.20 M658.71 312.56 L674.67 312.56 L674.67 309.90 L673.34 307.24 L672.01 305.91 L669.35 304.58 L665.36 304.58 L661.37 305.91 L658.71 308.57 L657.38 312.56 L657.38 315.22 L658.71 319.21 L661.37 321.87 L665.36 323.20 L668.02 323.20 L672.01 321.87 L674.67 319.21 M673.34 312.56 L673.34 308.57 L672.01 305.91 M665.36 304.58 L662.70 305.91 L660.04 308.57 L658.71 312.56 L658.71 315.22 L660.04 319.21 L662.70 321.87 L665.36 323.20" fill="none" stroke="#000" stroke-width="2.90" stroke-linecap="butt" stroke-linejoin="round"/>
<path d="M586.10 502.20 L586.10 529.50 M587.40 502.20 L587.40 529.50 M604.30 502.20 L587.40 519.10 M593.90 513.90 L604.30 529.50 M592.60 513.90 L603.00 529.50 M582.20 502.20 L591.30 502.20 M599.10 502.20 L606.90 502.20 M582.20 529.50 L591.30 529.50 M599.10 529.50 L606.90 529.50 M614.70 511.30 L614.70 529.50 M616.00 511.30 L616.00 529.50 M616.00 519.10 L617.30 515.20 L619.90 512.60 L622.50 511.30 L626.40 511.30 L627.70 512.60 L627.70 513.90 L626.40 515.20 L625.10 513.90 L626.40 512.60 M610.80 511.30 L616.00 511.30 M610.80 529.50 L619.90 529.50" fill="none" stroke="#000" stroke-width="2.90" stroke-linecap="butt" stroke-linejoin="round"/>
<path d="M706.35 64.55 L698.55 89.90 M706.35 64.55 L700.50 89.90 M718.05 64.55 L718.05 89.90 M718.05 64.55 L720.00 89.90 M692.70 68.45 L696.60 64.55 L702.45 62.60 L727.80 62.60 M692.70 68.45 L696.60 66.50 L702.45 64.55 L727.80 64.55 M746.53 50.65 L746.53 71.18 M736.26 60.91 L756.80 60.91" fill="none" stroke="#000" stroke-width="3.30" stroke-linecap="butt" stroke-linejoin="round"/>
<path d="M477.44 742.36 L453.68 772.60 M479.60 742.36 L455.84 772.60 M455.84 742.36 L453.68 751.00 L453.68 742.36 L479.60 742.36 M453.68 772.60 L479.60 772.60 L479.60 763.96 L477.44 772.60" fill="none" stroke="#000" stroke-width="3.20" stroke-linecap="butt" stroke-linejoin="round"/>
<path d="M493.24 766.86 L493.24 793.70 M494.52 766.86 L494.52 793.70 M494.52 779.64 L497.07 777.09 L500.91 775.81 L503.46 775.81 L507.30 777.09 L508.58 779.64 L508.58 793.70 M503.46 775.81 L506.02 777.09 L507.30 779.64 L507.30 793.70 M489.41 766.86 L494.52 766.86 M489.41 793.70 L498.35 793.70 M503.46 793.70 L512.41 793.70" fill="none" stroke="#000" stroke-width="3.20" stroke-linecap="butt" stroke-linejoin="round"/>
<path d="M5.45 349.85 L44.30 349.85 M5.45 348.00 L44.30 348.00 M5.45 355.40 L5.45 333.20 L7.30 327.65 L9.15 325.80 L12.85 323.95 L16.55 323.95 L20.25 325.80 L22.10 327.65 L23.95 333.20 L23.95 348.00 M5.45 333.20 L7.30 329.50 L9.15 327.65 L12.85 325.80 L16.55 325.80 L20.25 327.65 L22.10 329.50 L23.95 333.20 M44.30 355.40 L44.30 342.45 M23.95 338.75 L25.80 335.05 L27.65 333.20 L40.60 327.65 L42.45 325.80 L42.45 323.95 L40.60 322.10 M25.80 335.05 L29.50 333.20 L42.45 329.50 L44.30 327.65 L44.30 323.95 L40.60 322.10 L38.75 322.10" fill="none" stroke="#000" stroke-width="3.50" stroke-linecap="butt" stroke-linejoin="round"/>
<path d="M38.76 312.42 L62.20 312.42 M38.76 311.30 L58.85 304.61 M38.76 312.42 L62.20 304.61 M38.76 296.80 L62.20 304.61 M38.76 296.80 L62.20 296.80 M38.76 295.68 L62.20 295.68 M38.76 315.77 L38.76 311.30 M38.76 296.80 L38.76 292.33 M62.20 315.77 L62.20 309.07 M62.20 300.14 L62.20 292.33" fill="none" stroke="#000" stroke-width="3.50" stroke-linecap="butt" stroke-linejoin="round"/>
<path d="M12.09 307.96 L26.60 312.42 M12.09 307.96 L26.60 311.30 M12.09 301.26 L26.60 301.26 M12.09 301.26 L26.60 300.14 M14.32 315.77 L12.09 313.54 L10.98 310.19 L10.98 295.68 M14.32 315.77 L13.21 313.54 L12.09 310.19 L12.09 295.68 M4.17 284.74 L16.22 284.74 M10.19 290.77 L10.19 278.72" fill="none" stroke="#000" stroke-width="3.50" stroke-linecap="butt" stroke-linejoin="round"/>
</svg>
</body></html>
